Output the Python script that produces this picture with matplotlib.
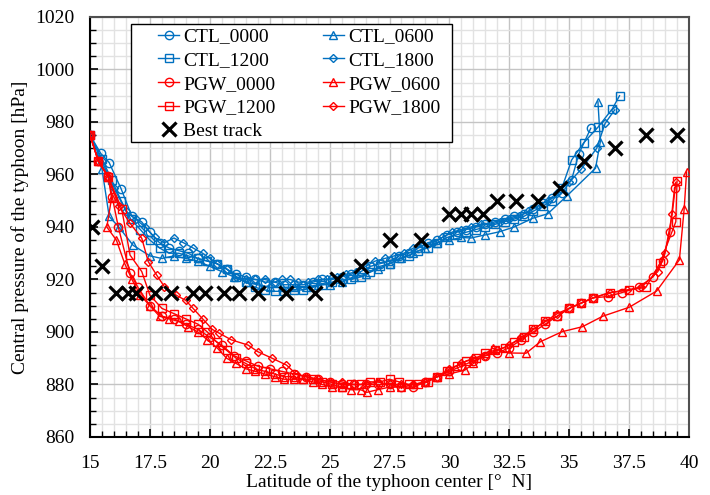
import matplotlib
matplotlib.use('Agg')
import matplotlib.pyplot as plt
from matplotlib.patches import Rectangle
from matplotlib.ticker import MultipleLocator

plt.rcParams['font.family'] = ['Liberation Serif', 'DejaVu Serif']
plt.rcParams['font.size'] = 14

BLUE = '#0070C0'
RED = '#FF0000'

# best track
bt_lat = [15.1, 15.5, 16.1, 16.6, 16.9, 17.7, 18.4, 19.3, 19.8, 20.6, 21.2, 22.0, 23.2, 24.4,
          25.3, 26.3, 27.5, 28.8, 30.0, 30.5, 30.9, 31.4, 32.0, 32.8, 33.7, 34.6, 35.6, 36.9,
          38.2, 39.5]
bt_p = [940, 925, 915, 915, 915, 915, 915, 915, 915, 915, 915, 915, 915, 915,
        920, 925, 935, 935, 945, 945, 945, 945, 950, 950, 950, 955, 965, 970,
        975, 975]

# CTL runs
ctl_0000_lat = [15.0, 15.45, 15.8, 16.3, 16.75, 17.15, 17.5, 17.9, 18.3, 18.7, 19.1, 19.5, 19.9,
                20.3, 20.7, 21.1, 21.5, 21.9, 22.3, 22.7, 23.1, 23.5, 23.9, 24.3, 24.7, 25.1,
                25.5, 25.9, 26.3, 26.7, 27.1, 27.5, 27.9, 28.3, 28.7, 29.1, 29.5, 29.9, 30.3,
                30.7, 31.1, 31.5, 31.9, 32.3, 32.7, 33.1, 33.5, 33.9, 34.3, 34.7, 35.1, 35.4,
                35.9]
ctl_0000_p = [975, 968, 964.5, 954.5, 944, 942, 938, 934, 932, 931, 930, 928, 927,
              926, 924, 922, 921, 920, 919, 919, 918, 918, 918, 919, 920, 920,
              921, 922, 923, 925, 926, 927, 929, 930, 932, 934, 935, 937, 938,
              939, 940, 941, 942, 943, 944, 945, 947, 949, 951, 953, 958, 967.8,
              977.6]

ctl_0600_lat = [15.0, 15.5, 15.8, 16.2, 16.8, 17.5, 18.0, 18.5, 19.0, 19.5, 20.0, 20.5, 21.0,
                21.5, 22.0, 22.5, 23.0, 23.5, 24.0, 24.5, 25.0, 25.5, 26.0, 26.5, 27.0, 27.5,
                28.0, 28.5, 29.0, 29.5, 30.0, 30.5, 30.9, 31.5, 32.1, 32.7, 33.5, 34.1, 34.9,
                36.1, 36.3, 36.2]
ctl_0600_p = [975, 962, 944, 940, 933, 929, 928, 929, 928, 927, 925, 923, 921,
              919, 918, 917, 917, 917, 917, 918, 918, 919, 921, 922, 924, 926,
              928, 930, 932, 934, 935, 936, 935.8, 937, 938.2, 940, 943.4, 945, 951.8,
              962.4, 972.5, 987.7]

ctl_1200_lat = [15.0, 15.5, 15.9, 16.3, 16.7, 17.1, 17.5, 17.9, 18.3, 18.7, 19.1, 19.5, 19.9,
                20.3, 20.7, 21.1, 21.5, 21.9, 22.3, 22.7, 23.1, 23.5, 23.9, 24.3, 24.7, 25.1,
                25.5, 25.9, 26.3, 26.7, 27.1, 27.5, 27.9, 28.3, 28.7, 29.1, 29.5, 29.9, 30.3,
                30.7, 31.1, 31.5, 31.9, 32.3, 32.7, 33.1, 33.5, 33.9, 34.3, 34.7, 35.1, 35.6,
                36.2, 36.8, 37.1]
ctl_1200_p = [975, 966, 958, 950, 943, 939, 935, 932, 930, 930, 929, 928, 927,
              926, 924, 921, 919, 917, 916, 915.5, 915.5, 916, 916, 917, 918, 919,
              920, 920, 921, 923, 925, 926, 928, 929, 931, 932, 934, 936, 937,
              938, 939, 940, 941, 942, 943, 944, 946, 948, 950, 955, 965.5, 972,
              978, 985, 990]

ctl_1800_lat = [15.0, 15.5, 16.0, 16.5, 16.9, 17.3, 17.7, 18.1, 18.5, 18.9, 19.3, 19.7, 20.0,
                20.3, 20.7, 21.1, 21.5, 21.9, 22.3, 22.7, 23.0, 23.35, 23.7, 24.1, 24.5, 24.9,
                25.3, 25.7, 26.1, 26.5, 26.9, 27.3, 27.7, 28.1, 28.5, 28.9, 29.3, 29.7, 30.1,
                30.5, 30.9, 31.3, 31.7, 32.1, 32.5, 32.9, 33.3, 33.7, 34.1, 34.5, 35.0, 35.5,
                36.15, 36.5, 36.9]
ctl_1800_p = [975, 965, 955, 946, 943, 940, 936, 934, 935.8, 934, 932, 930, 928,
              926, 924, 921, 920, 920, 920, 919, 920, 920, 919, 919, 920, 920,
              921, 922, 923, 925, 927, 928, 929, 930, 932, 933, 934, 936, 938,
              939, 940, 941, 941, 942, 943, 944, 946, 948, 950, 953, 957, 962,
              970, 979.5, 984.6]

# PGW runs
pgw_0000_lat = [15.0, 15.35, 15.76, 15.93, 16.18, 16.67, 17.0, 17.5, 18.0, 18.5, 19.0, 19.5,
                20.0, 20.5, 21.0, 21.5, 22.0, 22.5, 23.0, 23.5, 24.0, 24.5, 25.0, 25.5, 26.0,
                26.5, 27.0, 27.5, 28.0, 28.5, 29.0, 29.5, 30.0, 30.5, 31.0, 31.5, 32.0, 32.5,
                33.0, 33.5, 34.0, 34.5, 35.0, 35.5, 36.0, 36.6, 37.2, 37.9, 38.5, 38.9, 39.2,
                39.4]
pgw_0000_p = [975, 965, 959.4, 951.3, 940, 922.4, 917, 910, 906, 905, 903, 901,
              898, 895, 891, 889, 887, 886, 885, 884, 883, 882, 881, 880, 880,
              880, 880, 880, 879, 879, 881, 883, 885, 887, 889, 891, 892, 894,
              897, 900, 903, 906, 909, 911, 913, 913.5, 915, 917, 921, 927, 938,
              955]

pgw_0600_lat = [15.0, 15.35, 15.76, 15.9, 15.7, 16.1, 16.45, 16.75, 17.1, 17.5, 17.9, 18.3,
                18.7, 19.1, 19.5, 19.9, 20.3, 20.7, 21.1, 21.5, 21.9, 22.3, 22.7, 23.1, 23.5,
                23.9, 24.3, 24.7, 25.1, 25.5, 25.9, 26.3, 26.55, 27.0, 27.5, 28.0, 28.5, 29.0,
                29.5, 30.0, 30.65, 31.0, 31.8, 32.5, 33.2, 33.8, 34.7, 35.55, 36.4, 37.5, 38.65,
                39.6, 39.8, 39.9]
pgw_0600_p = [975, 965, 959, 951, 940, 935, 926, 920, 914, 910, 906, 905,
              904, 902, 900, 897, 894, 890, 888, 886, 885, 884, 883, 882, 882,
              882, 881, 880, 879, 879, 878, 878, 877, 878, 879, 879, 880, 881,
              883, 884, 885.5, 888, 893.8, 892, 891.9, 896.3, 900.1, 902, 906, 909.4, 915.6,
              927.5, 947, 961]

pgw_1200_lat = [15.0, 15.35, 15.76, 16.32, 16.67, 17.16, 17.5, 18.0, 18.5, 19.0, 19.5, 19.9,
                20.3, 20.7, 21.1, 21.5, 21.9, 22.3, 22.7, 23.1, 23.5, 23.9, 24.3, 24.7, 25.1,
                25.5, 25.9, 26.3, 26.7, 27.1, 27.5, 27.9, 28.3, 28.7, 29.1, 29.5, 29.9, 30.3,
                30.7, 31.1, 31.5, 31.9, 32.3, 32.7, 33.1, 33.5, 34.0, 34.5, 35.0, 35.5, 36.0,
                36.7, 37.5, 38.2, 38.8, 39.45, 39.5]
pgw_1200_p = [975, 965, 959, 947, 929.3, 923, 914, 909, 907, 905, 903, 900,
              896, 893, 890, 888, 886, 885, 884, 883, 883, 882, 882, 881, 880,
              879, 880, 880, 881, 881, 882, 881, 880, 880, 881, 883, 885, 887,
              889, 890, 892, 893, 894, 896, 898, 901, 904, 906, 909, 911, 913,
              915, 916, 917, 926.4, 942, 957.5]

pgw_1800_lat = [15.0, 15.35, 15.76, 16.2, 16.67, 17.16, 17.43, 17.78, 18.1, 18.6, 19.0, 19.3,
                19.7, 20.1, 20.4, 20.9, 21.6, 22.0, 22.6, 23.2, 23.6, 24.0, 24.5, 25.0, 25.5,
                26.0, 26.5, 27.0, 27.5, 28.0, 28.5, 29.0, 29.5, 30.0, 30.5, 31.0, 31.5, 32.0,
                32.5, 33.0, 33.5, 34.0, 34.5, 35.0, 35.5, 36.0, 36.7, 37.4, 38.0, 38.7, 39.0,
                39.3, 39.45]
pgw_1800_p = [975, 965, 959, 948, 941.4, 935.7, 926.8, 921.7, 917.3, 914, 912, 909,
              905, 901, 899.5, 897, 895, 892.5, 890, 887.4, 884, 883, 882, 881, 881,
              880, 880, 881, 880, 880, 880, 881, 883, 886, 888, 890, 891, 893,
              895, 898, 901, 904, 907, 909, 911, 913, 915, 916, 917, 923, 930,
              945, 957]

runs = [
    ('CTL_0000', ctl_0000_lat, ctl_0000_p, BLUE, 'o'),
    ('CTL_0600', ctl_0600_lat, ctl_0600_p, BLUE, '^'),
    ('CTL_1200', ctl_1200_lat, ctl_1200_p, BLUE, 's'),
    ('CTL_1800', ctl_1800_lat, ctl_1800_p, BLUE, 'D'),
    ('PGW_0000', pgw_0000_lat, pgw_0000_p, RED, 'o'),
    ('PGW_0600', pgw_0600_lat, pgw_0600_p, RED, '^'),
    ('PGW_1200', pgw_1200_lat, pgw_1200_p, RED, 's'),
    ('PGW_1800', pgw_1800_lat, pgw_1800_p, RED, 'D'),
]

fig = plt.figure(figsize=(7.1, 4.95), dpi=100)
ax = fig.add_axes([0.1268, 0.1172, 0.8436, 0.8485])

handles = {}
for name, lat, p, col, mk in runs:
    ms = 4.3 if mk == 'D' else 6.0
    handles[name], = ax.plot(lat, p, color=col, marker=mk, markersize=ms, markerfacecolor='none',
                             markeredgewidth=1.0, linewidth=1.0, label=name, zorder=3)

handles['Best track'], = ax.plot(bt_lat, bt_p, linestyle='none', marker='x', color='black',
                                 markersize=10, markeredgewidth=2.3, label='Best track', zorder=5)

ax.set_xlim(15, 40)
ax.set_ylim(860, 1020)
ax.xaxis.set_major_locator(MultipleLocator(2.5))
ax.xaxis.set_minor_locator(MultipleLocator(0.5))
ax.yaxis.set_major_locator(MultipleLocator(20))
ax.yaxis.set_minor_locator(MultipleLocator(5))
ax.set_xticks([15, 17.5, 20, 22.5, 25, 27.5, 30, 32.5, 35, 37.5, 40])
ax.set_xticklabels(['15', '17.5', '20', '22.5', '25', '27.5', '30', '32.5', '35', '37.5', '40'])

ax.grid(which='major', color='#c4c4c4', linewidth=1.0, zorder=0)
ax.grid(which='minor', color='#e2e2e2', linewidth=1.0, zorder=0)
ax.set_axisbelow(True)

ax.tick_params(which='major', direction='in', length=6, width=1.2)
ax.tick_params(which='minor', direction='in', length=4, width=1.0)
ax.tick_params(axis='x', which='major', pad=13)
ax.tick_params(axis='y', which='major', pad=11)

for side in ['left', 'bottom']:
    ax.spines[side].set_color('black')
    ax.spines[side].set_linewidth(1.5)
for side in ['top', 'right']:
    ax.spines[side].set_color('#505050')
    ax.spines[side].set_linewidth(1.5)

ax.set_xlabel('Latitude of the typhoon center [°  N]', labelpad=1)
ax.set_ylabel('Central pressure of the typhoon [hPa]', labelpad=5)

# legend frame drawn separately so the inner padding can be wider on the left
ax.add_patch(Rectangle((0.0684, 0.7024), 0.5359, 0.2809, transform=ax.transAxes,
                       facecolor='white', edgecolor='black', linewidth=1.0, zorder=8))

# legend filled row by row like the original
order = ['CTL_0000', 'CTL_1200', 'PGW_0000', 'PGW_1200', 'Best track',
         'CTL_0600', 'CTL_1800', 'PGW_0600', 'PGW_1800']
leg = ax.legend([handles[k] for k in order], order, ncol=2, loc='upper left',
                bbox_to_anchor=(0.1135, 0.974), borderaxespad=0, borderpad=0, frameon=False,
                handlelength=1.1, handletextpad=0.2, columnspacing=2.42, labelspacing=0.31,
                fontsize=14)
leg.set_zorder(9)

fig.savefig('out.png', dpi=100)
